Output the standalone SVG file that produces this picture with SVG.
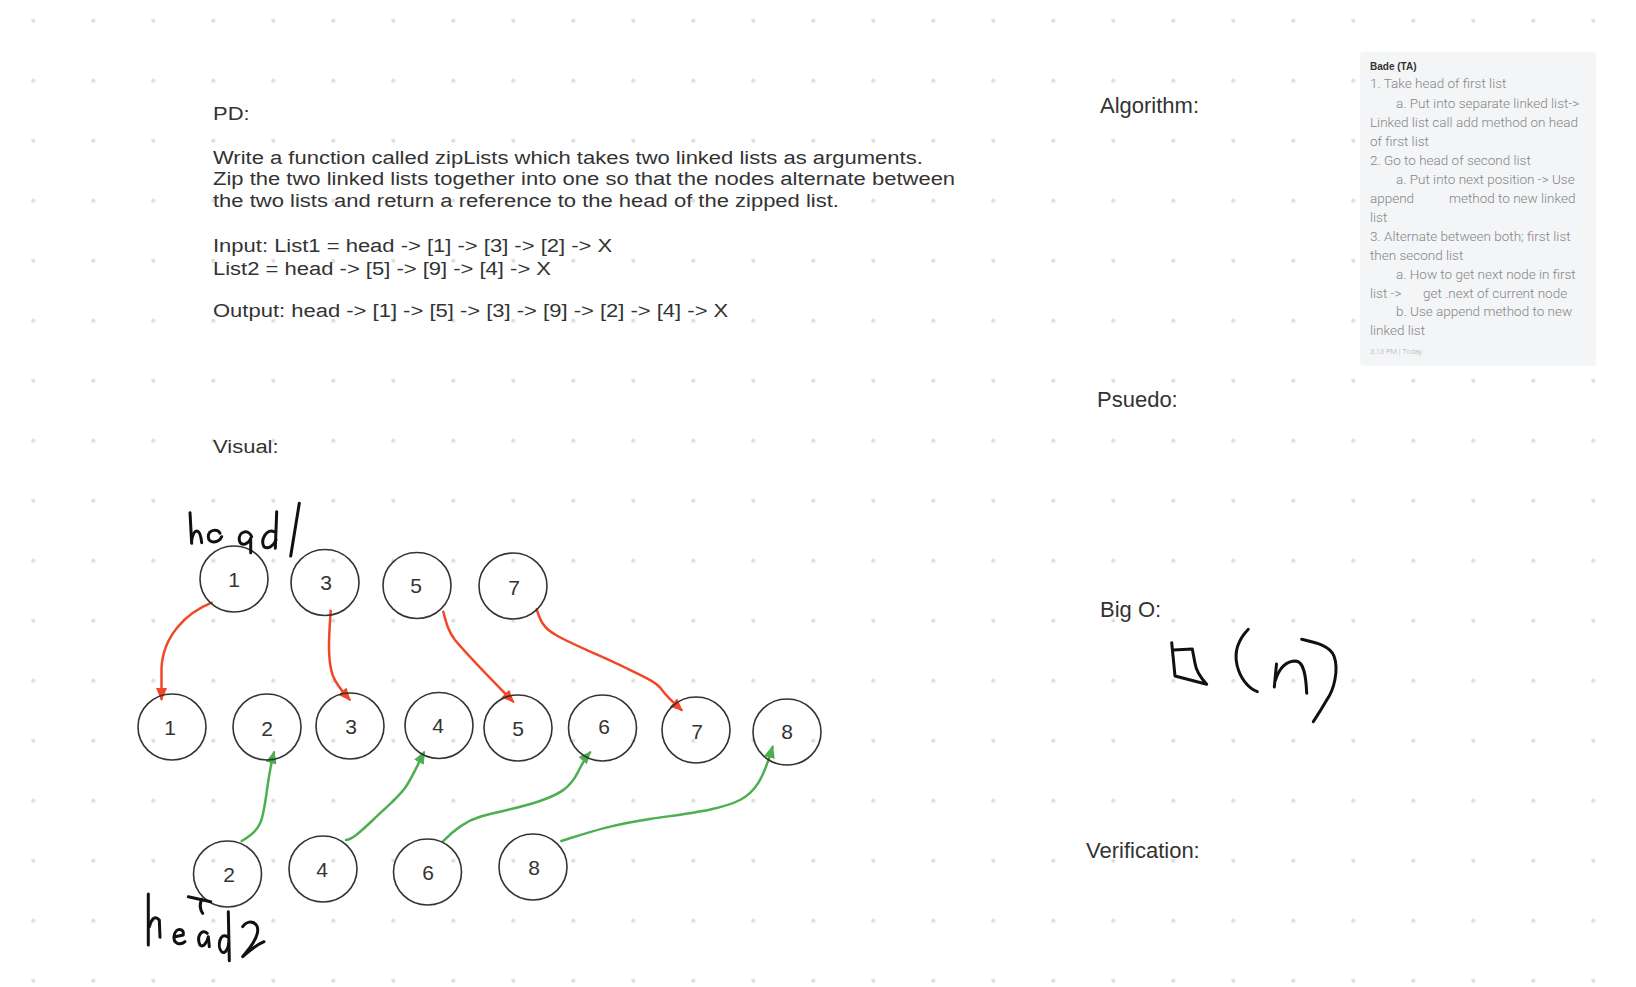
<svg xmlns="http://www.w3.org/2000/svg" width="1636" height="987" viewBox="0 0 1636 987">
<style>
.t{font-family:"Liberation Sans",Arial,sans-serif;fill:#333;font-size:22px}
.p{font-family:"Liberation Sans",Arial,sans-serif;fill:#333;font-size:19px}
.nd ellipse{fill:none;stroke:#333;stroke-width:1.6}
.nd text{font-family:"Liberation Sans",Arial,sans-serif;font-size:21px;fill:#333;text-anchor:middle}
.red{fill:none;stroke:#f24726;stroke-width:2.5;stroke-linecap:round}
.grn{fill:none;stroke:#4caf50;stroke-width:2.5;stroke-linecap:round}
.ink{fill:none;stroke:#111;stroke-width:3;stroke-linecap:round;stroke-linejoin:round}
.card text{font-family:Roboto,"Liberation Sans",Arial,sans-serif;font-size:13.5px;fill:#858585;font-weight:300}
</style>
<defs>
<pattern id="dots" patternUnits="userSpaceOnUse" x="3.3" y="-9.3" width="60" height="60">
<circle cx="30" cy="30" r="2" fill="#dcdcdc"/>
</pattern>
<marker id="ahR" markerUnits="userSpaceOnUse" markerWidth="13" markerHeight="11" refX="11" refY="5.5" orient="auto">
<path d="M0,0 L13,5.5 L0,11 z" fill="#f24726"/>
</marker>
<marker id="ahG" markerUnits="userSpaceOnUse" markerWidth="13" markerHeight="11" refX="11" refY="5.5" orient="auto">
<path d="M0,0 L13,5.5 L0,11 z" fill="#4caf50"/>
</marker>
</defs>
<rect width="1636" height="987" fill="#ffffff"/>
<rect width="1636" height="987" fill="url(#dots)"/>

<g id="problem-text">
<g transform="translate(213,0) scale(1.158,1)">
<text class="p" x="0" y="120">PD:</text>
<text class="p" x="0" y="164">Write a function called zipLists which takes two linked lists as arguments.</text>
<text class="p" x="0" y="185.5">Zip the two linked lists together into one so that the nodes alternate between</text>
<text class="p" x="0" y="207">the two lists and return a reference to the head of the zipped list.</text>
<text class="p" x="0" y="252.5">Input: List1 = head -&gt; [1] -&gt; [3] -&gt; [2] -&gt; X</text>
<text class="p" x="0" y="275">List2 = head -&gt; [5] -&gt; [9] -&gt; [4] -&gt; X</text>
<text class="p" x="0" y="317">Output: head -&gt; [1] -&gt; [5] -&gt; [3] -&gt; [9] -&gt; [2] -&gt; [4] -&gt; X</text>
<text class="p" x="0" y="453">Visual:</text>
</g>
</g>

<g id="section-labels">
<text class="t" x="1100" y="112.5">Algorithm:</text>
<text class="t" x="1097" y="406.5">Psuedo:</text>
<text class="t" x="1100" y="616.5">Big O:</text>
<text class="t" x="1086" y="858">Verification:</text>
</g>

<g id="ta-note" class="card">
<rect x="1360" y="52" width="236" height="314" rx="4" fill="#f3f5f7"/>
<text x="1370" y="69.5" style="font-family:'Liberation Sans',Arial,sans-serif;font-size:10px;font-weight:bold;fill:#333">Bade (TA)</text>
<text x="1370" y="88.3">1. Take head of first list</text>
<text x="1396" y="107.5">a. Put into separate linked list-&gt;</text>
<text x="1370" y="126.5">Linked list call add method on head</text>
<text x="1370" y="145.5">of first list</text>
<text x="1370" y="164.5">2. Go to head of second list</text>
<text x="1396" y="183.5">a. Put into next position -&gt; Use</text>
<text x="1370" y="202.5">append<tspan x="1449">method to new linked</tspan></text>
<text x="1370" y="221.5">list</text>
<text x="1370" y="240.5">3. Alternate between both; first list</text>
<text x="1370" y="259.5">then second list</text>
<text x="1396" y="278.5">a. How to get next node in first</text>
<text x="1370" y="297.5">list -&gt;<tspan x="1423">get .next of current node</tspan></text>
<text x="1396" y="316">b. Use append method to new</text>
<text x="1370" y="335">linked list</text>
<text x="1370" y="354" style="font-size:7.5px;fill:#b0b0b0">3:13 PM | Today</text>
</g>

<g id="connectors">
<path class="red" marker-end="url(#ahR)" d="M211.7,602.7 C186,613 163,636 161.5,668 L161.5,699"/>
<path class="red" marker-end="url(#ahR)" d="M330.7,610.7 C329,635 327,660 333,676 C337,686 343,692 349.5,699.5"/>
<path class="red" marker-end="url(#ahR)" d="M443.3,611.7 C446,622 448,631 455,640 C470,658 492,680 513,701.5"/>
<path class="red" marker-end="url(#ahR)" d="M536.7,609.3 C540,620 543,628 556,635 C575,646 600,655 626,668 C645,677 658,683 662,690 C668,698 675,704 681.5,710"/>
<path class="grn" marker-end="url(#ahG)" d="M241.7,841 C252,835 259,829 262,818 C267,800 267,778 274,752.5"/>
<path class="grn" marker-end="url(#ahG)" d="M346,840 C353,839 360,832 373,820 C385,808 396,800 405,788 C412,778 418,764 424,752.5"/>
<path class="grn" marker-end="url(#ahG)" d="M442.7,841.7 C450,834 462,822 480,816.7 C500,811 520,808 540,801 C560,794 570,788 578,772 C582,764 585,758 590,752.5"/>
<path class="grn" marker-end="url(#ahG)" d="M561.3,841 C590,832 610,825 650,819 C690,813 720,810 740,800 C755,792 763,780 772.5,747"/>
</g>

<g id="node-t1" class="nd"><ellipse cx="234" cy="579" rx="34" ry="33"/><text x="234" y="586.5">1</text></g>
<g id="node-t3" class="nd"><ellipse cx="325" cy="582.5" rx="34" ry="33"/><text x="326" y="590">3</text></g>
<g id="node-t5" class="nd"><ellipse cx="417" cy="585.5" rx="34" ry="33"/><text x="416" y="593">5</text></g>
<g id="node-t7" class="nd"><ellipse cx="513" cy="586" rx="34" ry="33"/><text x="514" y="594.5">7</text></g>

<g id="node-m1" class="nd"><ellipse cx="172" cy="727" rx="34" ry="33"/><text x="170" y="735">1</text></g>
<g id="node-m2" class="nd"><ellipse cx="267" cy="727" rx="34" ry="33"/><text x="267" y="735.5">2</text></g>
<g id="node-m3" class="nd"><ellipse cx="350" cy="726" rx="34" ry="33"/><text x="351" y="734">3</text></g>
<g id="node-m4" class="nd"><ellipse cx="439" cy="725.5" rx="34" ry="33"/><text x="438" y="733">4</text></g>
<g id="node-m5" class="nd"><ellipse cx="518" cy="728" rx="34" ry="33"/><text x="518" y="736">5</text></g>
<g id="node-m6" class="nd"><ellipse cx="602.5" cy="728" rx="34" ry="33"/><text x="604" y="734">6</text></g>
<g id="node-m7" class="nd"><ellipse cx="696" cy="730" rx="34" ry="33"/><text x="697" y="739">7</text></g>
<g id="node-m8" class="nd"><ellipse cx="787" cy="732" rx="34" ry="33"/><text x="787" y="738.5">8</text></g>

<g id="node-b2" class="nd"><ellipse cx="227.5" cy="874" rx="34" ry="33"/><text x="229" y="882">2</text></g>
<g id="node-b4" class="nd"><ellipse cx="323" cy="869" rx="34" ry="33"/><text x="322" y="877">4</text></g>
<g id="node-b6" class="nd"><ellipse cx="427.5" cy="872" rx="34" ry="33"/><text x="428" y="880">6</text></g>
<g id="node-b8" class="nd"><ellipse cx="533" cy="867" rx="34" ry="33"/><text x="534" y="875">8</text></g>

<g id="handwriting-head1">
<path class="ink" d="M190,512.7 L191.7,543.3"/>
<path class="ink" d="M191.7,540 C194,528.3 200,526.7 201.7,542.7"/>
<path class="ink" d="M220,533.3 C218.3,528.3 208.3,529.3 208.3,536.7 C208.3,543.3 218.3,544 221.7,536.7"/>
<path class="ink" d="M251.7,536.7 C248.3,528.3 238.3,531.7 239.3,540 C240,546.7 248.3,545 250.7,538.3 L250.7,552.7"/>
<path class="ink" d="M274,531.7 C266.7,528.3 260,540 264,546.7 C268.3,550 274,545 276,540"/>
<path class="ink" d="M276.7,511.7 L275.3,548.3"/>
<path class="ink" d="M299.3,503.3 L290.7,556"/>
</g>

<g id="handwriting-head2">
<path class="ink" d="M148.3,894 L148.3,945"/>
<path class="ink" d="M149.3,926.7 Q153.3,913.3 159.3,920 L160,937.3"/>
<path class="ink" d="M175,936.7 L183.3,935 C185,928.3 175,926.7 174,936.7 C173.3,943.3 180,946 185,941.7"/>
<path class="ink" d="M188.3,896.7 Q200,899.3 210.7,901.7"/>
<path class="ink" d="M201.7,899.3 Q198.3,906.7 202.7,913.3"/>
<path class="ink" d="M207.3,933.3 C201.7,928.3 196,936.7 200,945 C203.3,948.3 207.3,941.7 208.3,936.7 L209.3,946.7"/>
<path class="ink" d="M228.3,911.7 L229.3,960.7"/>
<path class="ink" d="M227.3,936.7 C220,931.7 216.7,946.7 221.7,951.7 C225,955 228.3,948.3 228.7,943.3"/>
<path class="ink" d="M242.7,926.7 C248.3,918.3 260,921.7 257.3,933.3 C255,943.3 245,953.3 242.7,956.7 C250,950 256.7,945 264,941.7"/>
</g>

<g id="handwriting-bigO">
<path class="ink" d="M1171.7,642.7 L1175,676 L1206.7,684.3 C1200,677 1196,670 1195,663.3 L1192.3,649 L1173.3,650"/>
<path class="ink" d="M1248.3,629.3 C1238,640 1234,652 1237,665 C1240,678 1248,688 1257.3,691.7"/>
<path class="ink" d="M1274.3,687 L1276.5,664"/>
<path class="ink" d="M1275.5,680 C1280,666 1288,661 1296,661 C1304,662 1306,676 1306.7,693.3"/>
<path class="ink" d="M1301.7,639.3 C1318,643 1330,646 1334,656 C1339,670 1334,690 1326.7,700 C1321,710 1317,716 1313.3,721.7"/>
</g>
</svg>
